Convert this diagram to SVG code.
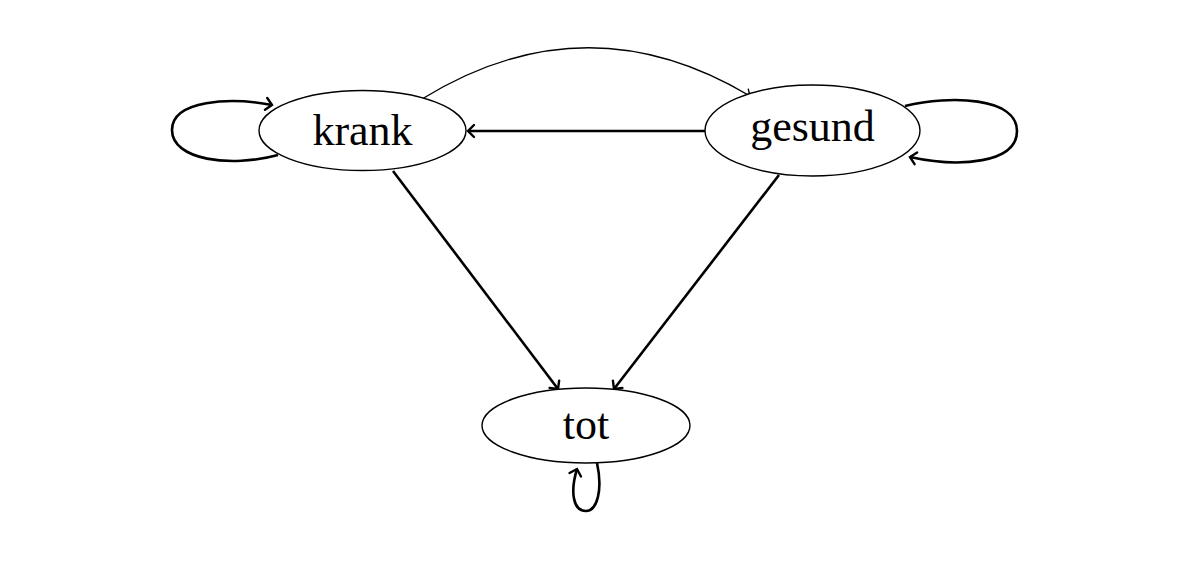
<svg xmlns="http://www.w3.org/2000/svg" width="1177" height="564" viewBox="0 0 1177 564">
<defs>
<marker id="arr" viewBox="-10 -10 20 20" markerWidth="20" markerHeight="20" refX="0" refY="0" orient="auto" markerUnits="userSpaceOnUse">
<path d="M-6,-6 Q-1.5,-1.5 0,0 Q-1.5,1.5 -6,6" fill="none" stroke="#000" stroke-width="2.4" stroke-linecap="round"/>
</marker>
<marker id="arrThin" viewBox="-10 -10 20 20" markerWidth="20" markerHeight="20" refX="0" refY="0" orient="auto" markerUnits="userSpaceOnUse">
<path d="M-5,-5 Q-1.2,-1.2 0,0 Q-1.2,1.2 -5,5" fill="none" stroke="#000" stroke-width="1.4" stroke-linecap="round"/>
</marker>
</defs>
<style>
.node ellipse{fill:#fff;stroke:#000;stroke-width:1.4}
.node text{font-family:"Liberation Serif","DejaVu Serif",serif;font-size:44px;fill:#000;text-anchor:middle}
.thick{fill:none;stroke:#000;stroke-width:2.6;marker-end:url(#arr)}
.thin{fill:none;stroke:#000;stroke-width:1.4;marker-end:url(#arrThin)}
</style>
<rect width="1177" height="564" fill="#fff"/>
<g id="connectors">
<path class="thin" d="M422,99 Q586,-2 750,96"/>
<path class="thick" d="M705,131 L468,131"/>
<path class="thick" d="M393,171 L558,389"/>
<path class="thick" d="M779,175 L614,389"/>
<path class="thick" d="M278,155 C230,168 172,160 172,130 C172,100 230,97 272,105"/>
<path class="thick" d="M905,106 C950,95 1017,97 1017,131 C1017,163 960,168 910,157"/>
<path class="thick" d="M597,463 C603,490 597,511 586,511 C573,511 570,492 577,469"/>
</g>
<g id="node-krank" class="node">
<ellipse cx="362.5" cy="130.5" rx="103.5" ry="40"/>
<text x="362.5" y="145">krank</text>
</g>
<g id="node-gesund" class="node">
<ellipse cx="812.5" cy="130.5" rx="107.5" ry="45.5"/>
<text x="812.5" y="141">gesund</text>
</g>
<g id="node-tot" class="node">
<ellipse cx="586" cy="425.5" rx="104" ry="37.5"/>
<text x="586" y="439">tot</text>
</g>
</svg>
